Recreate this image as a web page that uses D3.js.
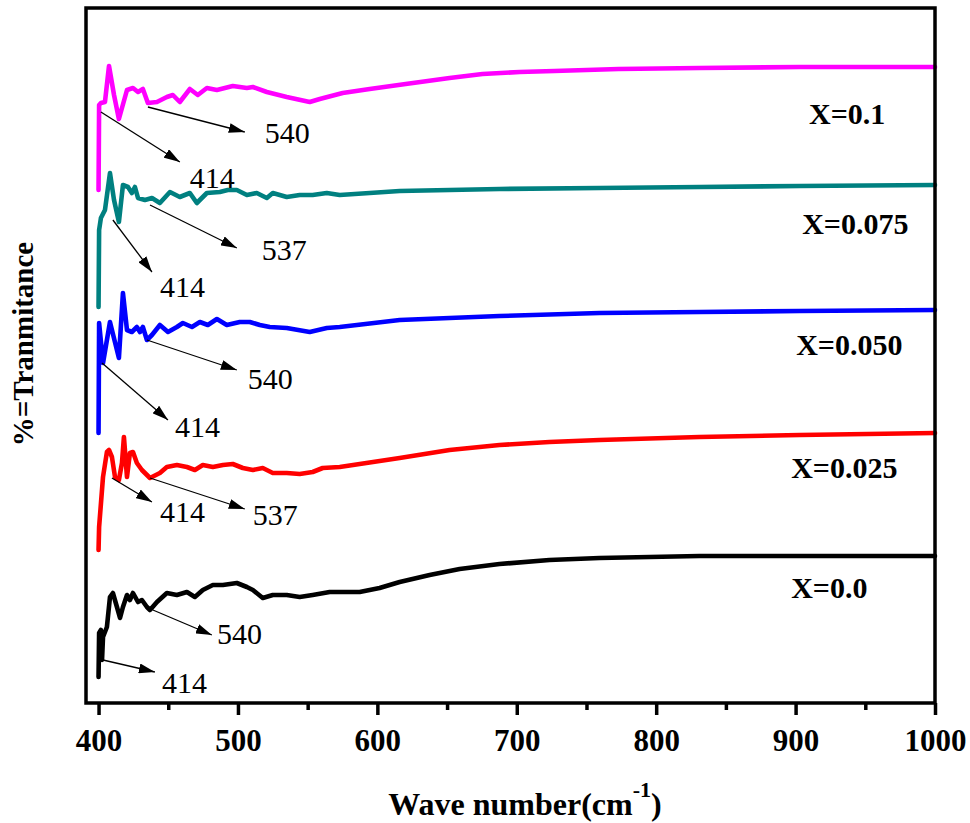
<!DOCTYPE html>
<html>
<head>
<meta charset="utf-8">
<script src="https://cdn.jsdelivr.net/npm/d3@7/dist/d3.min.js"></script>
<style>
  html, body { margin: 0; padding: 0; background: #fff; }
  svg { display: block; }
</style>
</head>
<body>
<script>
// ---------- DATA (wave number in cm^-1, offset transmittance in arbitrary units) ----------
const seriesNames = ["X=0.1", "X=0.075", "X=0.050", "X=0.025", "X=0.0"];
const seriesColors = ["#ff00ff", "#008080", "#0000ff", "#ff0000", "#000000"];

const specX010 = [[400,102.6],[400.4,119.6],[401.7,120],[404.6,120.2],[407.5,127.4],[411.1,121.6],[414.6,116.8],[420.4,122.6],[424.7,123],[428.3,122.2],[431.8,122.8],[435.4,120],[441.9,120.2],[449,121.2],[453.3,121.6],[458.3,120.2],[465.5,122.8],[471.2,121.6],[477.7,123],[484.9,122.6],[496.3,123.4],[506.4,123],[510.7,123.2],[520.7,122.2],[535,121.2],[551.5,120.2],[558.7,120.8],[575.1,122],[594.5,122.8],[620.3,123.8],[651.8,125],[675.4,125.8],[702,126.2],[727,126.4],[773,126.8],[831,127],[903,127.2],[1000,127.2]];

const specX075 = [[400,79.2],[400.4,94.6],[401.7,97],[404.6,98.6],[408.2,106],[411.1,100.6],[414.6,96.2],[417.5,103.6],[421.1,103.2],[423.9,102],[426.1,103.2],[428.3,101],[433.3,100.6],[438.3,101],[444,100],[451.2,102.2],[458.3,101.2],[465.5,102],[470.5,100],[477.7,102],[487,102.2],[492.7,102.6],[499.2,102.6],[506.4,101.6],[513.5,102],[520.7,101],[525,102],[535,101.2],[544.3,101.6],[553.6,101.6],[563.7,102],[573,101.6],[616,102.4],[687.6,102.8],[759.3,103],[831,103.2],[903,103.4],[1000,103.6]];

const specX050 = [[400,54],[400.4,76],[403.2,68],[408.2,76.2],[414.6,69],[417.5,82],[420.4,74.6],[423.9,74.2],[427.5,75.2],[429.7,74.2],[431.8,75.2],[434.7,72.6],[438.3,73.6],[444,75.6],[449.8,74.2],[456.2,75.2],[460.5,76],[467,75.2],[472.7,76.2],[478.4,75.6],[484.9,76.8],[492,75.6],[501.3,76.2],[508.5,76.2],[515.7,75.6],[522.8,75.2],[535,75],[551.5,74.2],[563.7,75],[573,75.2],[616,76.6],[687.6,77.4],[759.3,78],[831,78.2],[903,78.4],[1000,78.6]];

const specX025 = [[400,30.6],[400.4,35.2],[403.2,45.2],[406,50.2],[407.5,50.6],[409.6,49.2],[411.8,45.2],[414.6,44.6],[416.8,48],[418.2,53.2],[420.4,45.2],[422.5,50],[424.7,50.2],[427.5,48],[431.1,46.6],[436.9,45],[444,46],[449,47.2],[456.2,47.6],[463.4,47.2],[469.1,46.6],[474.8,47.6],[482,47.2],[489.2,47.6],[496.3,47.8],[503.5,47],[510.7,46.6],[517.8,47],[525,46],[535,46],[544.3,45.8],[553.6,46.2],[560.8,47],[573,47.2],[616,49],[651.8,50.6],[687.6,51.6],[723.4,52.2],[759.3,52.6],[831,53.2],[903,53.6],[1000,54]];

const specX000 = [[400,5.2],[400.4,14],[401.7,14.6],[402.5,8.6],[403.2,13.2],[406,15.2],[408.2,21.2],[410.3,22],[413.2,19.2],[415.4,17],[417.5,19.2],[420.4,21.6],[422.5,20.6],[424.7,22],[428.3,20.2],[431.1,20.6],[434.7,19.2],[436.9,18.6],[441.9,20.2],[449,22],[456.2,21.6],[463.4,22.2],[469.1,21.2],[474.8,22.6],[482,23.6],[489.2,23.6],[499.2,24],[506.4,23.2],[510.7,22.6],[517.8,21],[525,21.6],[535,21.6],[544.3,21.2],[553.6,21.6],[565.8,22.2],[573,22.2],[587.3,22.2],[601.6,23],[616,24.2],[637.5,25.6],[659,26.8],[687.6,27.8],[723.4,28.6],[759.3,29],[831,29.4],[903,29.4],[1000,29.4]];

const spectra = [specX010, specX075, specX050, specX025, specX000];

// series label anchor points (wave number, value)
const labelPos = [[909.7,115.8],[904.7,93.8],[900.4,69.6],[896.8,45],[896.8,21]];

// peak annotations: text, arrow start [wn,v], arrow tip [wn,v], text anchor [wn,v]
const annText = ["540","414","537","414","540","414","414","537","540","414"];
const annFrom = [[435.4,119.2],[401.7,118.2],[436.9,99.6],[410.3,96.6],[434.7,72.6],[402.5,68],[409.6,45],[436.9,45],[439,18.6],[403.2,8.6]];
const annTo   = [[504.9,114.2],[458.3,108.2],[499.2,91],[438.3,86.2],[499.2,66.6],[449.8,56.6],[438.3,40.2],[504.9,38.8],[481.3,13.6],[440.4,6.2]];
const annAt   = [[519.3,112],[465.5,103],[517.1,88.6],[444,81.2],[507.1,62.8],[454.8,53.2],[444,36.2],[510.7,35.6],[484.9,11.8],[445.5,2]];

const majorTicks = [400,500,600,700,800,900,1000];
const minorTicks = [450,550,650,750,850,950];
const xTitle = "Wave number(cm";
const xTitleSup = "-1";
const yTitle = "%=Tranmitance";

// ---------- DRAWING ----------
const W = 970, H = 823;
const serif = "'Liberation Serif','Times New Roman',Times,serif";
const svg = d3.select("body").append("svg").attr("width", W).attr("height", H);
svg.append("rect").attr("width", W).attr("height", H).attr("fill", "#fff");

const x = d3.scaleLinear().domain([391, 1000]).range([86, 935]);
const y = d3.scaleLinear().domain([0, 139]).range([703, 8]);

// arrow marker
svg.append("defs").append("marker")
  .attr("id", "arrow").attr("viewBox", "0 0 16 10")
  .attr("refX", 16).attr("refY", 5)
  .attr("markerWidth", 16).attr("markerHeight", 10)
  .attr("markerUnits", "userSpaceOnUse").attr("orient", "auto")
  .append("path").attr("d", "M0,0 L16,5 L0,10 Z").attr("fill", "#000");

// spectra
const line = d3.line().x(d => x(d[0])).y(d => y(d[1])).curve(d3.curveLinear);
spectra.forEach((s, i) => {
  svg.append("path").datum(s)
    .attr("d", line)
    .attr("fill", "none")
    .attr("stroke", seriesColors[i])
    .attr("stroke-width", 4.6)
    .attr("stroke-linejoin", "round")
    .attr("stroke-linecap", "round");
});

// frame
svg.append("rect")
  .attr("x", x(391)).attr("y", y(139))
  .attr("width", x(1000) - x(391)).attr("height", y(0) - y(139))
  .attr("fill", "none").attr("stroke", "#000").attr("stroke-width", 3.5);

// x axis (major)
const axMajor = svg.append("g").attr("transform", `translate(0,${y(0)})`)
  .call(d3.axisBottom(x).tickValues(majorTicks).tickSize(12).tickSizeOuter(0).tickFormat(d3.format("d")));
axMajor.select(".domain").remove();
axMajor.selectAll(".tick line").attr("stroke", "#000").attr("stroke-width", 3.5);
axMajor.selectAll(".tick text")
  .attr("y", 26)
  .attr("fill", "#000")
  .style("font-family", serif).style("font-weight", "bold").style("font-size", "31px");

// x axis (minor)
const axMinor = svg.append("g").attr("transform", `translate(0,${y(0)})`)
  .call(d3.axisBottom(x).tickValues(minorTicks).tickSize(7).tickSizeOuter(0).tickFormat(""));
axMinor.select(".domain").remove();
axMinor.selectAll(".tick line").attr("stroke", "#000").attr("stroke-width", 3.5);

// annotations
annText.forEach((t, i) => {
  svg.append("line")
    .attr("x1", x(annFrom[i][0])).attr("y1", y(annFrom[i][1]))
    .attr("x2", x(annTo[i][0])).attr("y2", y(annTo[i][1]))
    .attr("stroke", "#000").attr("stroke-width", 1.3)
    .attr("marker-end", "url(#arrow)");
  svg.append("text")
    .attr("x", x(annAt[i][0])).attr("y", y(annAt[i][1]))
    .attr("fill", "#000")
    .style("font-family", serif).style("font-size", "30px")
    .text(t);
});

// series labels
seriesNames.forEach((n, i) => {
  svg.append("text")
    .attr("x", x(labelPos[i][0])).attr("y", y(labelPos[i][1]))
    .attr("fill", "#000")
    .style("font-family", serif).style("font-weight", "bold").style("font-size", "30px")
    .text(n);
});

// axis titles
const xt = svg.append("text")
  .attr("x", 525).attr("y", 815)
  .attr("text-anchor", "middle")
  .attr("fill", "#000")
  .style("font-family", serif).style("font-weight", "bold").style("font-size", "32px");
xt.append("tspan").text(xTitle);
xt.append("tspan").attr("dy", -18).style("font-size", "22px").text(xTitleSup);
xt.append("tspan").attr("dy", 18).text(")");

svg.append("text")
  .attr("transform", "translate(33,344) rotate(-90)")
  .attr("text-anchor", "middle")
  .attr("fill", "#000")
  .style("font-family", serif).style("font-weight", "bold").style("font-size", "29px")
  .text(yTitle);
</script>
</body>
</html>
